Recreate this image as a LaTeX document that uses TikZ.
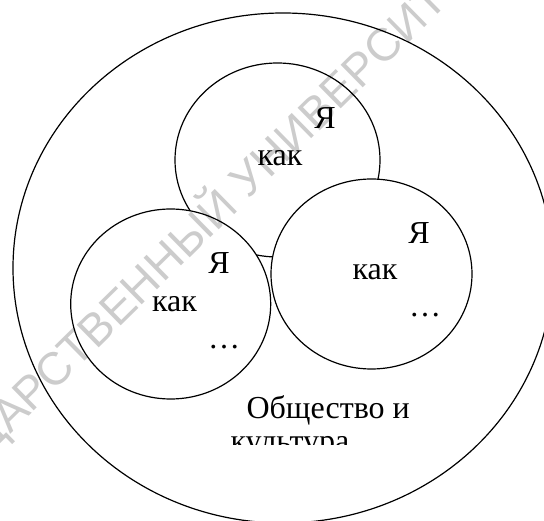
\documentclass[tikz,border=0pt]{standalone}
\usepackage{fontspec}
\setmainfont{Liberation Serif}
\newfontfamily\wmfont{Liberation Sans}
\usetikzlibrary{positioning}
\definecolor{wmgray}{RGB}{204,204,204}

\begin{document}
\begin{tikzpicture}[x=1pt,y=-1pt,line width=1.2pt,
  txt/.style={inner sep=0pt,font=\fontsize{32}{38}\selectfont},
  ring/.style={draw=black,fill=white},
  wm/.style={inner sep=0pt,text=wmgray,font=\wmfont\fontsize{46}{50}\selectfont}]
  \useasboundingbox (0,0) rectangle (544,521);
  \clip (0,0) rectangle (544,521);
  % society and culture
  \draw (283,268) ellipse [x radius=270pt,y radius=255pt];
  % upper self
  \draw[ring] (277.5,160) ellipse [x radius=102.5pt,y radius=97pt];
  \node[txt] (ya1) at (325,118) {Я};
  \node[txt] (kak1) at (280,158.5) {как};
  % left self
  \draw[ring] (170.7,304) ellipse [x radius=100pt,y radius=95pt];
  \node[txt] (ya2) at (219,263) {Я};
  \node[txt] (kak2) at (174.5,304.5) {как};
  \node[txt,anchor=base] (dots2) at (224,348.5) {…};
  % right self
  \draw[ring] (371.5,274) ellipse [x radius=100.5pt,y radius=95pt];
  \node[txt] (ya3) at (419,233) {Я};
  \node[txt] (kak3) at (375,272.5) {как};
  \node[txt,anchor=base] (dots3) at (425,316.5) {…};
  % caption, second line cut off
  \node[txt,anchor=base west] (soc) at (246,419) {Общество и};
  \begin{scope}
    \clip (0,0) rectangle (544,445);
    \node[txt,anchor=base west] (cult) at (230,452) {культура};
  \end{scope}
  % watermark
  \begin{scope}[blend mode=multiply]
    \node[wm,rotate=44.5,anchor=base west] (stamp) at (-96,539)
      {ГОСУДАРСТВЕННЫЙ УНИВЕРСИТЕТ};
  \end{scope}
\end{tikzpicture}
\end{document}
